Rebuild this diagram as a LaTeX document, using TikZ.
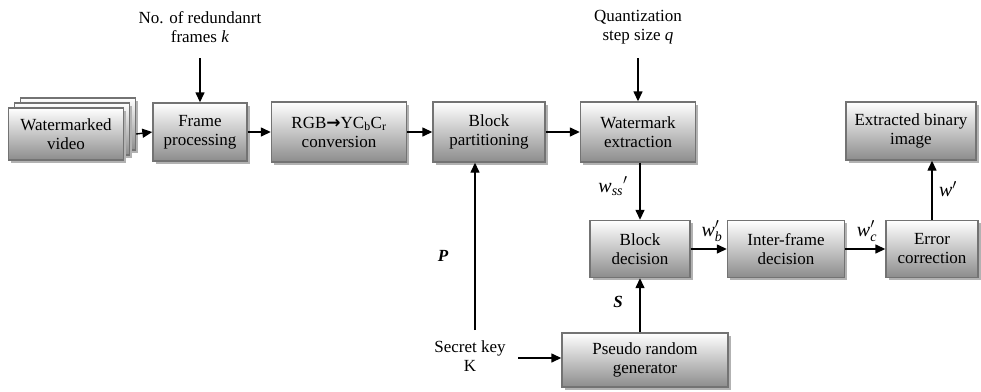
\documentclass[tikz,border=0pt]{standalone}
\usepackage{fontspec}
\setmainfont{Liberation Serif}
\newfontfamily\symfont{DejaVu Sans}
\usetikzlibrary{arrows.meta,shadows}
\begin{document}
\begin{tikzpicture}[x=1pt,y=-1pt,
  font=\fontsize{17}{19}\selectfont,
  blk/.style={draw=black!55,line width=1.4pt,top color=white,bottom color=black!45,
    align=center,inner sep=0pt,
    drop shadow={shadow xshift=2.5pt,shadow yshift=-2.5pt,fill=black!30,opacity=1}},
  lbl/.style={align=center,inner sep=0pt},
  sig/.style={lbl,font=\fontsize{20}{22}\selectfont},
  conn/.style={line width=1.4pt,-{Triangle[length=10pt,width=9pt]}},
]
\useasboundingbox (0,0) rectangle (981,391);

% stacked input frames
\node[blk,minimum width=115pt,minimum height=52pt] (v3) at (78,124) {};
\node[blk,minimum width=115pt,minimum height=52pt] (v2) at (72,129) {};
\node[blk,minimum width=115pt,minimum height=52pt] (vid) at (66,134) {Watermarked\\video};

% main chain
\node[blk,minimum width=94pt,minimum height=58pt] (fp) at (200,132) {Frame\\processing};
\node[blk,minimum width=135pt,minimum height=60pt] (rgb) at (339,132) {RGB{\symfont\bfseries →}YC\textsubscript{b}C\textsubscript{r}\\conversion};
\node[blk,minimum width=112pt,minimum height=60pt] (bp) at (489,132) {Block\\partitioning};
\node[blk,minimum width=115pt,minimum height=60pt] (we) at (638,132) {Watermark\\extraction};
\node[blk,minimum width=130pt,minimum height=58pt] (ebi) at (911,131) {Extracted binary\\image};

\node[blk,minimum width=100pt,minimum height=57pt] (bd) at (640,249) {Block\\decision};
\node[blk,minimum width=117pt,minimum height=57pt] (ifd) at (786,249) {Inter-frame\\decision};
\node[blk,minimum width=92pt,minimum height=57pt] (ec) at (932,249) {Error\\correction};
\node[blk,minimum width=166pt,minimum height=54pt] (prg) at (645,360) {Pseudo random\\generator};

% external inputs
\node[lbl] (nk) at (200,27) {No. of redundanrt\\frames \textit{k}};
\node[lbl] (qs) at (638,27) {Quantization\\step size \textit{q}};
\node[lbl] (key) at (470,356) {Secret key\\K};
\coordinate (nkend) at (200,58);
\coordinate (qsend) at (638,58);
\coordinate (keyup) at (475,330);
\coordinate (keyright) at (518,358);

% connectors
\draw[conn] (vid.east -| v3.east) -- (fp.west);
\draw[conn] (fp) -- (rgb);
\draw[conn] (rgb) -- (bp);
\draw[conn] (bp) -- (we);
\draw[conn] (nkend) -- (fp.north);
\draw[conn] (qsend) -- (we.north);
\draw[conn] (we.south -| bd.north) -- (bd.north);
\draw[conn] (keyup) -- (keyup |- bp.south);
\draw[conn] (keyright) -- (keyright -| prg.west);
\draw[conn] (prg.north -| bd.south) -- (bd.south);
\draw[conn] (bd) -- (ifd);
\draw[conn] (ifd) -- (ec);
\draw[conn] (ec.north) -- (ec.north |- ebi.south);

% signal labels
\node[sig] (lwss) at (613,186) {\textit{w}\textsubscript{\textit{ss}}$'$};
\node[sig] (lwb) at (712,231) {\textit{w}$^{\prime}_{\mathit{b}}$};
\node[sig] (lwc) at (867,231) {\textit{w}$^{\prime}_{\mathit{c}}$};
\node[sig] (lw) at (948,189) {\textit{w}$'$};
\node[lbl] (lP) at (443,256) {\textbf{\textit{P}}};
\node[lbl] (lS) at (618,302) {\textbf{\textit{S}}};
\end{tikzpicture}
\end{document}
